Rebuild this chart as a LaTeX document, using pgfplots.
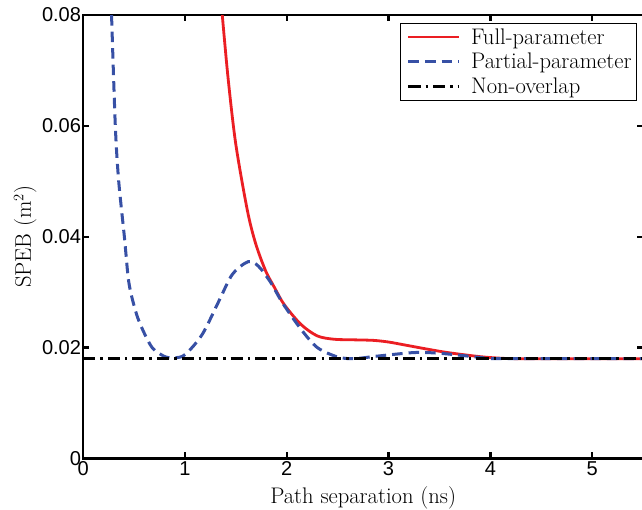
\documentclass[border=0pt]{standalone}
\usepackage{fontspec}
\usepackage{pgfplots}
\pgfplotsset{compat=1.18}
\newfontfamily\tickfont{Liberation Sans}
\definecolor{fullred}{RGB}{235,30,35}
\definecolor{partblue}{RGB}{55,80,165}

\begin{document}
\begin{tikzpicture}
\begin{axis}[
    scale only axis,
    width=558pt, height=442pt,
    xmin=0, xmax=5.5,
    ymin=0, ymax=0.08,
    xtick={0,1,2,3,4,5},
    ytick={0,0.02,0.04,0.06,0.08},
    yticklabels={0,0.02,0.04,0.06,0.08},
    scaled ticks=false,
    axis line style={line width=2.4pt},
    tick style={line width=2.4pt, black},
    major tick length=6pt,
    tick align=inside,
    /pgf/number format/assume math mode=true,
    ticklabel style={font=\tickfont\fontsize{20}{22}\selectfont},
    yticklabel style={inner sep=2pt},
    xticklabel style={inner sep=3pt},
    label style={font=\fontsize{22.5}{26}\selectfont},
    xlabel style={yshift=-4pt},
    xlabel={Path separation (ns)},
    ylabel={SPEB (m$^2$)},
    legend cell align=left,
    legend style={at={(0.989,0.982)}, anchor=north east,
        draw=black, line width=0.6pt, fill=white,
        font=\fontsize{22.5}{26}\selectfont,
        inner xsep=3pt, inner ysep=3pt, row sep=3.5pt},
    legend image code/.code={\path (-4pt,0pt) (59pt,0pt);
        \draw[#1] (0pt,0pt) -- (50pt,0pt);},
    clip=true,
]
\coordinate (bl) at (rel axis cs:0,0);
\coordinate (tr) at (rel axis cs:1,1);

\addplot[color=fullred, line width=2.8pt, smooth] coordinates {
    (1.366,0.0800) (1.422,0.0688) (1.498,0.0568) (1.613,0.0447)
    (1.695,0.0387) (1.793,0.0338) (1.88,0.0308) (1.973,0.0278)
    (2.138,0.0242) (2.30,0.0221) (2.466,0.0215) (2.65,0.0214)
    (2.85,0.0213) (3.00,0.0210) (3.15,0.0205) (3.386,0.0197)
    (3.58,0.0191) (3.85,0.01846) (4.04,0.01815) (4.30,0.0180)
    (5.50,0.0180)
};
\addlegendentry{Full-parameter}

\addplot[color=partblue, line width=3pt, smooth, dash pattern=on 10.5pt off 6pt] coordinates {
    (0.278,0.0800) (0.315,0.0600) (0.348,0.0501) (0.404,0.0400)
    (0.446,0.0320) (0.50,0.0275) (0.56,0.0242) (0.677,0.0200)
    (0.81,0.0183) (0.906,0.01815) (1.005,0.0188) (1.17,0.0224)
    (1.333,0.0284) (1.465,0.0332) (1.62,0.0355) (1.72,0.0347)
    (1.84,0.0318) (1.96,0.0280) (2.14,0.0233) (2.30,0.0200)
    (2.50,0.0183) (2.66,0.0180) (2.89,0.01846) (3.25,0.0191)
    (3.48,0.0190) (3.71,0.0186) (3.91,0.0182) (4.10,0.0180)
    (5.50,0.0180)
};
\addlegendentry{Partial-parameter}

\addplot[color=black, line width=2.8pt, dash pattern=on 12pt off 5pt on 2.5pt off 5pt] coordinates {
    (0,0.018) (5.5,0.018)
};
\addlegendentry{Non-overlap}
\end{axis}
\pgfresetboundingbox
\path[use as bounding box] ([shift={(-83pt,-51pt)}]bl) rectangle ([shift={(-1pt,15pt)}]tr);
\end{tikzpicture}
\end{document}
